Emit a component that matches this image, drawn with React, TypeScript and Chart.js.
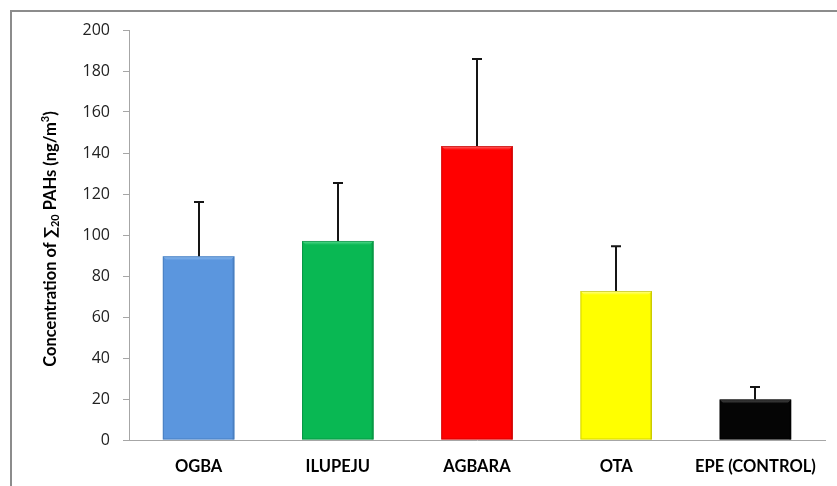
import React, { useEffect, useRef } from "react";
import { Chart, registerables } from "chart.js";

Chart.register(...registerables);

const categories = ["OGBA", "ILUPEJU", "AGBARA", "OTA", "EPE (CONTROL)"];
const means = [89.6, 97.1, 143.4, 72.7, 19.7];
const errors = [26.5, 28.3, 42.5, 21.8, 6.2];
const barColors = ["#5b96de", "#09b853", "#ff0000", "#ffff00", "#050505"];
const barEdgeColors = ["#3e6fae", "#06813a", "#b80000", "#b8b800", "#000000"];
const barHighlightColors = ["#93c0f2", "#5ddc93", "#ff7070", "#ffffa0", "#5a5a5a"];
const yMin = 0;
const yMax = 200;
const yStep = 20;

const FONT = "Lato, 'Open Sans', 'DejaVu Sans', sans-serif";
const TICK_FONT = "'Open Sans', Lato, 'DejaVu Sans', sans-serif";

const framePlugin = {
  id: "frame",
  beforeDraw(chart: any) {
    const ctx = chart.ctx;
    ctx.save();
    ctx.fillStyle = "#ffffff";
    ctx.fillRect(0, 0, chart.width, chart.height);
    ctx.strokeStyle = "#8c8c8c";
    ctx.lineWidth = 2;
    ctx.beginPath();
    ctx.moveTo(11, chart.height);
    ctx.lineTo(11, 11);
    ctx.lineTo(chart.width, 11);
    ctx.stroke();
    ctx.restore();
  },
};

const bevelPlugin = {
  id: "bevel",
  afterDatasetsDraw(chart: any) {
    const ctx = chart.ctx;
    const meta = chart.getDatasetMeta(0);
    ctx.save();
    meta.data.forEach((bar: any, i: number) => {
      const left = bar.x - bar.width / 2;
      const right = bar.x + bar.width / 2;
      const top = bar.y;
      const bottom = bar.base;
      const b = 4;
      const g = ctx.createLinearGradient(0, top, 0, top + b);
      g.addColorStop(0, barHighlightColors[i]);
      g.addColorStop(1, barColors[i]);
      ctx.fillStyle = g;
      ctx.beginPath();
      ctx.moveTo(left, top);
      ctx.lineTo(right, top);
      ctx.lineTo(right - b, top + b);
      ctx.lineTo(left + b, top + b);
      ctx.closePath();
      ctx.fill();
      ctx.globalAlpha = 0.35;
      ctx.fillStyle = barEdgeColors[i];
      ctx.beginPath();
      ctx.moveTo(right, top);
      ctx.lineTo(right, bottom);
      ctx.lineTo(right - 2, bottom);
      ctx.lineTo(right - 2, top + 2);
      ctx.closePath();
      ctx.fill();
      ctx.globalAlpha = 0.6;
      ctx.strokeStyle = barEdgeColors[i];
      ctx.lineWidth = 1;
      ctx.strokeRect(left + 0.5, top + 0.5, right - left - 1, bottom - top - 1);
      ctx.globalAlpha = 1;
    });
    ctx.restore();
  },
};

const errorBarPlugin = {
  id: "errorBars",
  afterDatasetsDraw(chart: any) {
    const ctx = chart.ctx;
    const meta = chart.getDatasetMeta(0);
    const yScale = chart.scales.y;
    ctx.save();
    ctx.strokeStyle = "#151515";
    ctx.lineWidth = 2;
    meta.data.forEach((bar: any, i: number) => {
      const x = Math.round(bar.x);
      const yBase = yScale.getPixelForValue(means[i]);
      const yTop = yScale.getPixelForValue(means[i] + errors[i]);
      ctx.beginPath();
      ctx.moveTo(x, yBase);
      ctx.lineTo(x, yTop);
      ctx.moveTo(x - 5, yTop);
      ctx.lineTo(x + 5, yTop);
      ctx.stroke();
    });
    ctx.restore();
  },
};

const yTitlePlugin = {
  id: "yTitle",
  afterDraw(chart: any) {
    const ctx = chart.ctx;
    const area = chart.chartArea;
    const parts = [
      { t: "Concentration of ∑", size: 16.5, dy: 0 },
      { t: "20", size: 11, dy: 4 },
      { t: " PAHs (ng/m", size: 16.5, dy: 0 },
      { t: "3", size: 11, dy: -6 },
      { t: ")", size: 16.5, dy: 0 },
    ];
    ctx.save();
    ctx.translate(51, (area.top + area.bottom) / 2 + 4);
    ctx.rotate(-Math.PI / 2);
    ctx.fillStyle = "#000000";
    ctx.textBaseline = "middle";
    ctx.textAlign = "left";
    let total = 0;
    parts.forEach((p) => {
      ctx.font = `bold ${p.size}px ${FONT}`;
      total += ctx.measureText(p.t).width;
    });
    let x = -total / 2;
    parts.forEach((p) => {
      ctx.font = `bold ${p.size}px ${FONT}`;
      ctx.fillText(p.t, x, p.dy);
      x += ctx.measureText(p.t).width;
    });
    ctx.restore();
  },
};

export default function App() {
  const canvasRef = useRef<HTMLCanvasElement | null>(null);

  useEffect(() => {
    if (!canvasRef.current) return;
    const chart = new Chart(canvasRef.current, {
      type: "bar",
      data: {
        labels: categories,
        datasets: [
          {
            data: means,
            backgroundColor: barColors,
            borderWidth: 0,
            barPercentage: 0.514,
            categoryPercentage: 1,
          },
        ],
      },
      options: {
        responsive: false,
        animation: false,
        layout: { padding: { top: 30, right: 12, left: 0, bottom: 0 } },
        plugins: {
          legend: { display: false },
          tooltip: { enabled: false },
          title: { display: false },
        },
        scales: {
          x: {
            grid: { display: false, drawTicks: false },
            border: { display: true, color: "#a6a6a6", width: 1 },
            ticks: {
              color: "#000000",
              font: { family: FONT, size: 16.5, weight: "bold" },
              padding: 17,
              maxRotation: 0,
            },
            afterFit: (s: any) => {
              s.height = 46;
            },
          },
          y: {
            min: yMin,
            max: yMax,
            grid: {
              drawOnChartArea: false,
              drawTicks: true,
              tickLength: 6,
              color: "#a6a6a6",
            },
            border: { display: true, color: "#a6a6a6", width: 1 },
            ticks: {
              stepSize: yStep,
              color: "#222222",
              font: { family: TICK_FONT, size: 16 },
              padding: 13,
            },
            afterFit: (s: any) => {
              s.width = 129;
            },
          },
        },
      },
      plugins: [framePlugin, bevelPlugin, errorBarPlugin, yTitlePlugin],
    });
    return () => chart.destroy();
  }, []);

  return (
    <div style={{ position: "fixed", left: 0, top: 0, width: 837, height: 486, background: "#fff" }}>
      <canvas ref={canvasRef} width={837} height={486} style={{ display: "block", width: 837, height: 486 }} />
    </div>
  );
}
